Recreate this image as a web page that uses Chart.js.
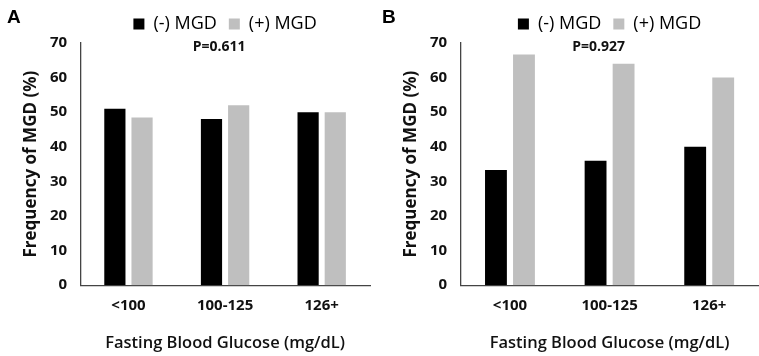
<!DOCTYPE html>
<html>
<head>
<meta charset="utf-8">
<script src="https://cdn.jsdelivr.net/npm/chart.js@4"></script>
<style>
    html, body { margin: 0; padding: 0; background: #fff; }
    body { width: 759px; height: 356px; position: relative; overflow: hidden; }
    .panel { position: absolute; top: 0; height: 356px; }
    .letter {
        position: absolute; top: 6px; font: bold 19px "Liberation Sans", Arial, sans-serif;
        color: #000;
    }
</style>
</head>
<body>
<div class="panel" style="left:0;width:380px"><canvas id="chartA" width="380" height="356"></canvas></div>
<div class="panel" style="left:380px;width:379px"><canvas id="chartB" width="379" height="356"></canvas></div>
<div class="letter" style="left:7px">A</div>
<div class="letter" style="left:382px">B</div>
<script>
const groups = ["<100", "100-125", "126+"];
const seriesNames = ["(-) MGD", "(+) MGD"];
const panelANeg = [51, 48, 50];
const panelAPos = [48.5, 52, 50];
const panelBNeg = [33.3, 36, 40];
const panelBPos = [66.7, 64, 60];
const pValueA = "P=0.611";
const pValueB = "P=0.927";

const font = "'Open Sans', 'DejaVu Sans', sans-serif";

// P value sits just inside the top of the plot area
const pLabel = {
    id: "pLabel",
    afterDraw(chart, args, opts) {
        const { ctx, chartArea } = chart;
        ctx.save();
        ctx.font = "bold 14px " + font;
        ctx.fillStyle = "#111";
        ctx.textAlign = "center";
        ctx.textBaseline = "middle";
        ctx.fillText(opts.text, (chartArea.left + chartArea.right) / 2 + opts.dx, chartArea.top + 4);
        ctx.restore();
    }
};

const makePanel = (canvas, neg, pos, pText, dx, rightPad) => {
    return new Chart(canvas, {
        type: "bar",
        data: {
            labels: groups,
            datasets: [
                {
                    label: seriesNames[0],
                    data: neg,
                    backgroundColor: "#000000"
                },
                {
                    label: seriesNames[1],
                    data: pos,
                    backgroundColor: "#bfbfbf"
                }
            ]
        },
        plugins: [pLabel],
        options: {
            responsive: false,
            animation: false,
            categoryPercentage: 0.5625,
            barPercentage: 0.78,
            layout: {
                padding: { top: 3, right: rightPad, bottom: 3, left: 23 }
            },
            plugins: {
                tooltip: { enabled: false },
                pLabel: { text: pText, dx },
                legend: {
                    fullSize: false,
                    labels: {
                        color: "#000",
                        boxWidth: 11,
                        boxHeight: 11,
                        padding: 12,
                        font: { family: font, size: 18 }
                    }
                }
            },
            scales: {
                x: {
                    grid: { display: false, drawTicks: false },
                    border: { display: true, color: "#444", width: 1.3 },
                    ticks: {
                        color: "#111",
                        padding: 12,
                        font: { family: font, size: 15, weight: "bold" }
                    },
                    title: {
                        display: true,
                        text: "Fasting Blood Glucose (mg/dL)",
                        color: "#111",
                        padding: { top: 6, bottom: 0 },
                        font: { family: font, size: 16.5, weight: "600" }
                    }
                },
                y: {
                    min: 0,
                    max: 70,
                    grid: { display: false, drawTicks: false },
                    border: { display: true, color: "#444", width: 1.3 },
                    ticks: {
                        stepSize: 10,
                        color: "#111",
                        padding: 13,
                        font: { family: font, size: 15, weight: "bold" }
                    },
                    title: {
                        display: true,
                        text: "Frequency of MGD (%)",
                        color: "#111",
                        padding: { top: 0, bottom: -3 },
                        font: { family: font, size: 17, weight: "bold", lineHeight: 1 }
                    }
                }
            }
        }
    });
};

makePanel(document.getElementById("chartA"), panelANeg, panelAPos, pValueA, -6, 10);
makePanel(document.getElementById("chartB"), panelBNeg, panelBPos, pValueB, -11, 0);
</script>
</body>
</html>
